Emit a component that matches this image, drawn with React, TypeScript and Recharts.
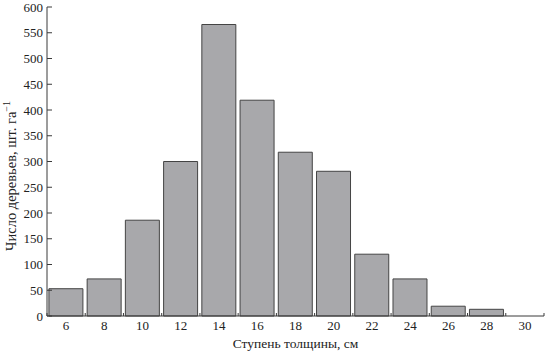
import React from 'react';
import { BarChart, Bar, XAxis, YAxis } from 'recharts';

// ступени толщины, см
const classes = [6, 8, 10, 12, 14, 16, 18, 20, 22, 24, 26, 28, 30];
// число деревьев, шт/га
const counts = [53, 72, 186, 300, 566, 419, 318, 281, 120, 72, 19, 13, 0];
const yTicks = [0, 50, 100, 150, 200, 250, 300, 350, 400, 450, 500, 550, 600];
// odd values = category boundaries (small ticks), even = labels
const xTicks = [5, 6, 7, 8, 9, 10, 11, 12, 13, 14, 15, 16, 17, 18, 19, 20, 21, 22, 23, 24, 25, 26, 27, 28, 29, 30, 31];

const data = classes.map((d, i) => ({ d, n: counts[i] }));

const FONT = '"Liberation Serif", "DejaVu Serif", serif';
const INK = '#3a3a3a';

const XTick = (props: any) => {
  const { x, y, payload } = props;
  if (payload.value % 2 === 1) {
    return <line x1={x} y1={y} x2={x} y2={y - 3} stroke={INK} strokeWidth={1} />;
  }
  return (
    <text x={x} y={y + 14} textAnchor="middle" fontFamily={FONT} fontSize={13} fill="#222">
      {payload.value}
    </text>
  );
};

const YTick = (props: any) => {
  const { x, y, payload } = props;
  return (
    <g>
      <line x1={x} y1={y} x2={x + 5} y2={y} stroke={INK} strokeWidth={1} />
      <text x={x - 4} y={y + 4.5} textAnchor="end" fontFamily={FONT} fontSize={13} fill="#222">
        {payload.value}
      </text>
    </g>
  );
};

const YLabel = () => (
  <text
    transform="translate(16, 176) rotate(-90)"
    textAnchor="middle"
    fontFamily={FONT}
    fontSize={14.5}
    fill="#222"
  >
    Число деревьев, шт. га
    <tspan dy={-6} fontSize={10}>−1</tspan>
  </text>
);

export default function App() {
  return (
    <div style={{ position: 'absolute', left: 0, top: 0, width: 545, height: 351, background: '#fff' }}>
      <BarChart
        width={545}
        height={351}
        data={data}
        margin={{ top: 7, right: 1, bottom: 0, left: 0 }}
        barCategoryGap="5%"
      >
        <XAxis
          dataKey="d"
          type="number"
          domain={[5, 31]}
          ticks={xTicks}
          interval={0}
          height={35}
          tickSize={0}
          tickMargin={0}
          tickLine={false}
          tick={<XTick />}
          axisLine={{ stroke: INK, strokeWidth: 1 }}
          label={{
            value: 'Ступень толщины, см',
            position: 'insideBottom',
            offset: 3,
            fontFamily: FONT,
            fontSize: 13.5,
            fill: '#222',
          }}
        />
        <YAxis
          domain={[0, 600]}
          ticks={yTicks}
          interval={0}
          width={47}
          tickSize={0}
          tickMargin={0}
          tickLine={false}
          tick={<YTick />}
          axisLine={{ stroke: INK, strokeWidth: 1 }}
          label={{ content: <YLabel /> }}
        />
        <Bar
          dataKey="n"
          fill="#a8a8ab"
          stroke="#444"
          strokeWidth={1}
          isAnimationActive={false}
        />
      </BarChart>
    </div>
  );
}
